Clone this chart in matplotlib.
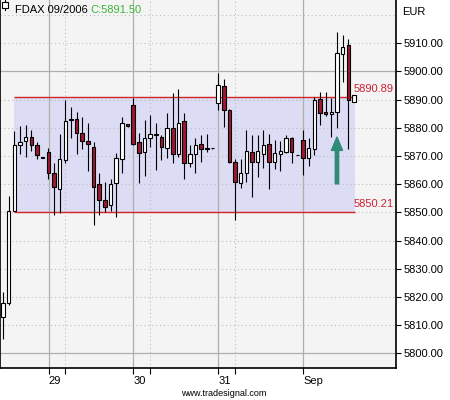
import numpy as np
import matplotlib
matplotlib.use('Agg')
import matplotlib.pyplot as plt
from matplotlib.patches import Rectangle, FancyArrowPatch
from matplotlib.transforms import ScaledTranslation

plt.rcParams['font.family'] = ['Liberation Sans', 'DejaVu Sans']

# hourly candles, FDAX 09/2006
opens = [5812.9, 5817.8, 5850.5, 5874.0, 5875.3, 5876.6, 5873.8, 5869.5, 5871.5, 5863.8,
         5858.2, 5868.5, 5883.2, 5883.0, 5878.2, 5875.3, 5873.3, 5860.0, 5854.4, 5852.6,
         5860.3, 5868.8, 5881.3, 5888.0, 5874.9, 5871.5, 5876.2, 5877.9, 5876.6, 5872.7,
         5879.8, 5870.7, 5882.4, 5867.4, 5870.6, 5874.1, 5872.7, 5872.7, 5888.7, 5894.8,
         5886.3, 5867.9, 5860.5, 5863.8, 5871.5, 5867.9, 5870.6, 5874.2, 5867.9, 5870.6,
         5871.5, 5876.2, 5870.3, 5875.6, 5869.4, 5872.3, 5890.1, 5885.7, 5884.7, 5885.7,
         5906.0, 5909.3, 5889.3]
highs = [5821.7, 5855.8, 5878.9, 5880.6, 5881.0, 5879.2, 5875.0, 5869.6, 5872.9, 5867.4,
         5877.8, 5890.0, 5887.4, 5885.7, 5883.7, 5881.6, 5875.0, 5863.8, 5860.9, 5861.7,
         5870.9, 5883.9, 5881.5, 5890.4, 5878.2, 5882.7, 5884.5, 5881.8, 5877.4, 5885.3,
         5892.4, 5893.6, 5885.1, 5873.9, 5876.2, 5877.4, 5877.8, 5872.8, 5899.5, 5897.2,
         5886.5, 5868.8, 5868.8, 5879.2, 5877.4, 5877.4, 5879.2, 5877.8, 5875.6, 5875.4,
         5877.4, 5876.8, 5870.4, 5879.2, 5876.2, 5891.0, 5892.8, 5892.8, 5890.4, 5914.0,
         5912.9, 5911.3, 5891.5]
lows = [5805.1, 5817.0, 5850.3, 5870.7, 5869.7, 5871.7, 5869.0, 5869.3, 5861.7, 5849.0,
        5849.6, 5867.6, 5876.2, 5870.7, 5872.3, 5864.8, 5845.5, 5849.0, 5850.2, 5850.6,
        5848.2, 5863.8, 5880.4, 5874.0, 5860.5, 5862.9, 5873.3, 5865.0, 5868.5, 5869.1,
        5867.4, 5869.7, 5861.7, 5866.0, 5863.8, 5867.9, 5871.5, 5872.6, 5886.3, 5880.4,
        5867.4, 5847.3, 5858.5, 5860.9, 5855.5, 5862.4, 5865.6, 5858.2, 5865.2, 5864.8,
        5870.9, 5867.6, 5870.2, 5863.2, 5866.4, 5870.3, 5881.0, 5884.1, 5876.6, 5879.8,
        5896.3, 5872.3, 5889.3]
closes = [5817.8, 5850.5, 5873.9, 5875.0, 5876.6, 5873.8, 5870.2, 5869.4, 5863.8, 5858.9,
          5868.8, 5882.4, 5882.7, 5878.0, 5875.2, 5874.1, 5859.1, 5854.4, 5852.0, 5860.0,
          5869.1, 5881.8, 5880.6, 5874.1, 5871.1, 5876.2, 5877.7, 5877.4, 5873.0, 5879.8,
          5870.7, 5881.6, 5867.4, 5870.7, 5873.9, 5872.3, 5872.5, 5872.7, 5895.1, 5886.3,
          5867.9, 5860.9, 5863.8, 5871.8, 5867.9, 5871.8, 5873.9, 5867.9, 5871.1, 5871.9,
          5876.2, 5871.5, 5870.3, 5869.4, 5872.7, 5889.8, 5885.3, 5884.9, 5885.6, 5906.4,
          5908.7, 5889.8, 5891.5]

day_labels = ['29', '30', '31', 'Sep']
day_start = [8.1, 23.0, 38.0, 53.0]
day_mid = [10.9, 25.9, 40.9]

range_top = 5890.89
range_bottom = 5850.21
range_from, range_to = 1.95, 62.2
signal_bar, signal_from, signal_to = 59.0, 5860.1, 5876.7

fig = plt.figure(figsize=(4.5, 4.0), dpi=100)
ax = fig.add_axes([0.0, 0.08, 0.88, 0.92])
ax.set_facecolor('#f4f4f4')

x = np.arange(len(opens))
o = np.array(opens)
c = np.array(closes)

# grid
for lev in range(5800, 5930, 10):
    if lev % 100 == 0:
        ax.axhline(lev, color='#a9b1a9', lw=0.9, zorder=1.5)
    else:
        ax.axhline(lev, color='#bdbdbd', lw=0.8, ls=(0, (1, 2.5)), zorder=1.5)
for d in day_start:
    ax.axvline(d, color='#a9b1a9', lw=0.9, zorder=1.5)
for d in day_mid:
    ax.axvline(d, color='#bdbdbd', lw=0.8, ls=(0, (1, 2.5)), zorder=1.5)

# trading range box
ax.add_patch(Rectangle((range_from, range_bottom), range_to - range_from,
                       range_top - range_bottom, facecolor='#dcdcf5', edgecolor='none', zorder=1))
ax.hlines([range_top, range_bottom], range_from, range_to, color='#d42424', lw=1.0, zorder=2)
ax.text(61.9, range_top + 1.0, '%.2f' % range_top, color='#cc2233', fontsize=8, va='bottom', ha='left', zorder=5)
ax.text(61.9, range_bottom + 1.0, '%.2f' % range_bottom, color='#cc2233', fontsize=8, va='bottom', ha='left', zorder=5)

# candles
ax.vlines(x, lows, highs, color='black', lw=0.8, zorder=3)
up = c >= o
bottom = np.minimum(o, c)
height = np.maximum(np.abs(c - o), 0.05)
ax.bar(x[up], height[up], bottom=bottom[up], width=0.62, color='white', edgecolor='black', lw=0.8, zorder=4)
ax.bar(x[~up], height[~up], bottom=bottom[~up], width=0.62, color='#a01830', edgecolor='black', lw=0.8, zorder=4)

# signal arrow
ax.add_patch(FancyArrowPatch((signal_bar, signal_from), (signal_bar, signal_to),
                             arrowstyle='simple,head_width=1.0,head_length=1.2,tail_width=0.3',
                             mutation_scale=8, color='#2e8b78', shrinkA=0, shrinkB=0, zorder=6))

ax.set_xlim(-0.53, 69.43)
ax.set_ylim(5794.8, 5925.3)

ax.yaxis.tick_right()
ax.set_yticks(range(5800, 5920, 10))
ax.set_yticklabels(['%.2f' % v for v in range(5800, 5920, 10)])
ax.tick_params(axis='y', length=3.5, width=0.8, pad=2, labelsize=8)

ax.set_xticks(day_start)
ax.set_xticklabels(day_labels, ha='left')
off = ScaledTranslation(3 / 100, 0, fig.dpi_scale_trans)
for lab in ax.get_xticklabels():
    lab.set_transform(lab.get_transform() + off)
ax.set_xticks(day_mid, minor=True)
ax.tick_params(axis='x', which='both', length=4, width=0.8, pad=2, labelsize=8)

ax.spines['top'].set_visible(False)
for s in ['left', 'right', 'bottom']:
    ax.spines[s].set_linewidth(1.2)

# header
ax.plot([0.013, 0.013], [0.972, 1.0], transform=ax.transAxes, color='black', lw=0.8, clip_on=False, zorder=7)
ax.add_patch(Rectangle((0.006, 0.978), 0.014, 0.016, transform=ax.transAxes, facecolor='white',
                       edgecolor='black', lw=0.8, zorder=7))
fig.text(15 / 450, 1 - 13 / 400, 'FDAX 09/2006', fontsize=8, color='black', va='baseline')
fig.text(90 / 450, 1 - 13 / 400, 'C:5891.50', fontsize=8, color='#3cb43c', va='baseline')
fig.text(402 / 450, 1 - 15 / 400, 'EUR', fontsize=8, color='black', va='baseline')
fig.text(224 / 450, 1 - 394 / 400, 'www.tradesignal.com', fontsize=6.5, color='black', ha='center', va='center')

fig.savefig('out.png', dpi=100)
